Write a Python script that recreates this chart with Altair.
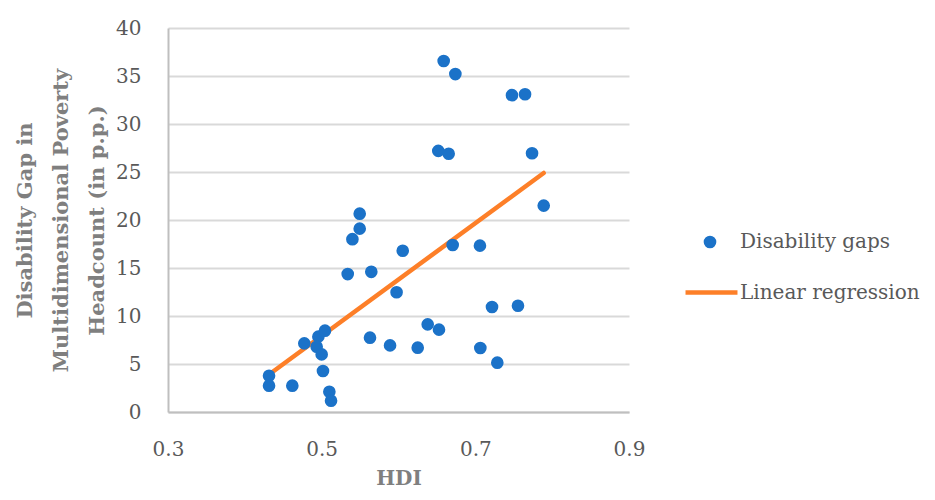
import altair as alt
import pandas as pd

hdi = [0.4315, 0.4315, 0.4618, 0.4774, 0.4957, 0.5043, 0.4935, 0.5000, 0.5017,
       0.5100, 0.5122, 0.5339, 0.5495, 0.5495, 0.5400, 0.5646, 0.5629, 0.5890,
       0.6055, 0.5975, 0.6705, 0.7060, 0.7217, 0.7555, 0.6380, 0.6527, 0.6250,
       0.7065, 0.7286, 0.6588, 0.6740, 0.7477, 0.7647, 0.6518, 0.6653, 0.7738,
       0.7890]
gap = [3.78, 2.74, 2.74, 7.15, 7.85, 8.47, 6.80, 6.00, 4.27,
       2.10, 1.18, 14.37, 20.66, 19.10, 18.00, 14.60, 7.74, 6.94,
       16.80, 12.47, 17.40, 17.33, 10.94, 11.07, 9.13, 8.58, 6.70,
       6.67, 5.14, 36.56, 35.20, 33.00, 33.10, 27.20, 26.90, 26.95,
       21.50]

reg_x = [0.4315, 0.789]
reg_y = [3.9, 24.9]

x_ticks = [0.3, 0.5, 0.7, 0.9]
y_ticks = [0, 5, 10, 15, 20, 25, 30, 35, 40]

FONT = "DejaVu Serif"
GREY = "#7f7f7f"
FS = 21

pts = pd.DataFrame({"HDI": hdi, "Gap": gap, "series": "Disability gaps"})
reg = pd.DataFrame({"HDI": reg_x, "Gap": reg_y, "series": "Linear regression"})

xscale = alt.Scale(domain=[0.3, 0.9], nice=False, zero=False)
yscale = alt.Scale(domain=[0, 40], nice=False)

xaxis = alt.Axis(values=x_ticks, format=".1f", grid=False, ticks=False,
                 labelFlush=False,
                 domainColor="#bfbfbf", domainWidth=2,
                 labelFont=FONT, labelFontSize=FS - 1, labelColor="#595959",
                 labelPadding=27, title="HDI", titleFont=FONT,
                 titleFontSize=FS - 1, titleFontWeight="bold", titleColor=GREY,
                 titlePadding=9)
yaxis = alt.Axis(values=y_ticks, grid=True, gridColor="#d9d9d9", gridWidth=2,
                 ticks=False, domainColor="#bfbfbf", domainWidth=2,
                 labelFont=FONT, labelFontSize=FS - 1, labelColor="#595959",
                 labelPadding=27,
                 title=["Disability Gap in", "Multidimensional Poverty",
                        "Headcount (in p.p.)"],
                 titleFont=FONT, titleFontSize=FS, titleFontWeight="bold",
                 titleColor=GREY, titlePadding=8, titleLineHeight=36)

points = alt.Chart(pts).mark_circle(size=160, opacity=1).encode(
    x=alt.X("HDI:Q", scale=xscale, axis=xaxis),
    y=alt.Y("Gap:Q", scale=yscale, axis=yaxis),
    color=alt.Color("series:N",
                    scale=alt.Scale(domain=["Disability gaps"], range=["#1b72c8"]),
                    legend=alt.Legend(title=None, orient="none", legendX=532,
                                      legendY=204, symbolSize=160,
                                      symbolType="circle", labelOffset=20,
                                      labelLimit=400,
                                      labelFont=FONT, labelFontSize=FS - 1,
                                      labelColor="#595959", padding=0)),
)

line = alt.Chart(reg).mark_line(strokeWidth=4.5, strokeCap="round").encode(
    x="HDI:Q",
    y="Gap:Q",
    stroke=alt.Stroke("series:N",
                      scale=alt.Scale(domain=["Linear regression"], range=["#fd7f28"]),
                      legend=alt.Legend(title=None, orient="none", legendX=515,
                                        legendY=236, symbolType="stroke",
                                        symbolSize=2700, symbolStrokeWidth=4.5,
                                        labelOffset=0, labelLimit=400,
                                        labelFont=FONT, labelFontSize=FS - 1,
                                        labelColor="#595959", padding=0)),
)

chart = alt.layer(line, points).resolve_scale(color="independent").properties(
    width=461, height=384,
    autosize=alt.AutoSizeParams(type="none"),
    padding={"left": 160, "top": 20, "right": 298, "bottom": 80},
).configure_view(stroke=None)

chart.save("out.html", embed_options={"renderer": "svg", "actions": False})
